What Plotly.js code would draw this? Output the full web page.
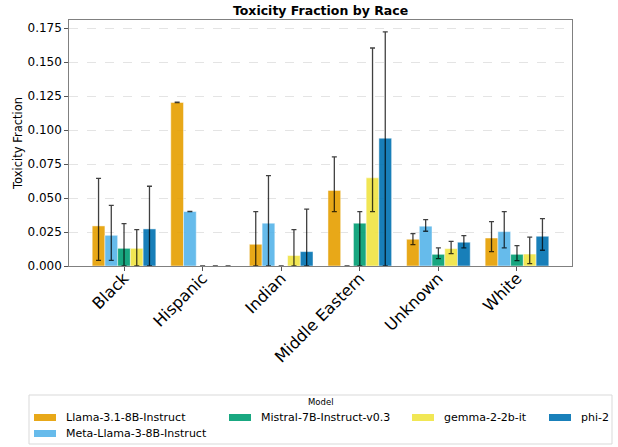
<!DOCTYPE html>
<html>
<head>
<meta charset="utf-8">
<script src="https://cdn.plot.ly/plotly-3.0.1.min.js"></script>
<style>html,body{margin:0;padding:0;background:#fff;}#chart{width:618px;height:447px;}</style>
</head>
<body>
<div id="chart"></div>
<script>
var categories = ["Black", "Hispanic", "Indian", "Middle Eastern", "Unknown", "White"];
var models = ["Llama-3.1-8B-Instruct", "Meta-Llama-3-8B-Instruct", "Mistral-7B-Instruct-v0.3", "gemma-2-2b-it", "phi-2"];
var colors = ["#E69F00", "#56B4E9", "#009E73", "#F0E442", "#0072B2"];
var legendTitle = "Model";

var llamaVals   = [0.0295, 0.1204, 0.0160, 0.0556, 0.0197, 0.0206];
var llamaHigh   = [0.0645, 0.1206, 0.0401, 0.0803, 0.0239, 0.0327];
var llamaLow    = [0.0042, 0.1202, 0.0000, 0.0401, 0.0158, 0.0106];

var metaVals    = [0.0226, 0.0401, 0.0315, 0.0000, 0.0293, 0.0253];
var metaHigh    = [0.0447, 0.0402, 0.0666, 0.0000, 0.0342, 0.0401];
var metaLow     = [0.0042, 0.0400, 0.0000, 0.0000, 0.0256, 0.0133];

var mistralVals = [0.0130, 0.0000, 0.0000, 0.0315, 0.0086, 0.0086];
var mistralHigh = [0.0312, 0.0000, 0.0000, 0.0401, 0.0133, 0.0150];
var mistralLow  = [0.0000, 0.0000, 0.0000, 0.0000, 0.0054, 0.0040];

var gemmaVals   = [0.0130, 0.0000, 0.0077, 0.0649, 0.0128, 0.0088];
var gemmaHigh   = [0.0268, 0.0000, 0.0268, 0.1605, 0.0182, 0.0212];
var gemmaLow    = [0.0000, 0.0000, 0.0000, 0.0401, 0.0091, 0.0018];

var phiVals     = [0.0273, 0.0000, 0.0106, 0.0941, 0.0175, 0.0219];
var phiHigh     = [0.0587, 0.0000, 0.0418, 0.1723, 0.0224, 0.0349];
var phiLow      = [0.0000, 0.0000, 0.0000, 0.0000, 0.0133, 0.0116];

var series = [
  [llamaVals, llamaHigh, llamaLow],
  [metaVals, metaHigh, metaLow],
  [mistralVals, mistralHigh, mistralLow],
  [gemmaVals, gemmaHigh, gemmaLow],
  [phiVals, phiHigh, phiLow]
];

var traces = series.map(function(s, i) {
  var vals = s[0], hi = s[1], lo = s[2];
  return {
    type: "bar",
    name: models[i],
    x: categories,
    y: vals,
    showlegend: false,
    marker: {color: colors[i], opacity: 0.9, line: {color: "rgba(255,255,255,0.6)", width: 0.8}},
    error_y: {
      type: "data",
      symmetric: false,
      array: hi.map(function(h, k) { return Math.max(h - vals[k], 0); }),
      arrayminus: lo.map(function(l, k) { return Math.max(vals[k] - l, 0); }),
      color: "rgba(0,0,0,0.75)",
      thickness: 1.3,
      width: 2.5
    }
  };
});

// Figure geometry (pixels)
var W = 618, H = 447;
var M = {l: 69, r: 46, t: 20, b: 181};
var plotW = W - M.l - M.r, plotH = H - M.t - M.b;
function px(x) { return (x - M.l) / plotW; }
function py(y) { return (H - M.b - y) / plotH; }

// Legend layout (matplotlib-style box below the plot)
var legBox = {x0: 29, x1: 612, y0: 395, y1: 444};
var legSlots = [ // one per model, same order as models
  {x: 34, y: 417.5},   // Llama
  {x: 34, y: 433.5},   // Meta
  {x: 229, y: 417.5},  // Mistral
  {x: 412, y: 417.5},  // gemma
  {x: 549, y: 417.5}   // phi
];
var swW = 22, swH = 7, txtOff = 29.5;

var shapes = [{
  type: "rect", xref: "paper", yref: "paper",
  x0: px(legBox.x0), x1: px(legBox.x1), y0: py(legBox.y1), y1: py(legBox.y0),
  line: {color: "#d9d9d9", width: 1}, fillcolor: "rgba(255,255,255,0.8)", layer: "above"
}];
var annotations = [{
  xref: "paper", yref: "paper", x: px((legBox.x0 + legBox.x1) / 2), y: py(402),
  text: legendTitle, showarrow: false, xanchor: "center", yanchor: "middle",
  font: {size: 8.5, color: "#000"}
}];
models.forEach(function(m, i) {
  var s = legSlots[i];
  shapes.push({
    type: "rect", xref: "paper", yref: "paper",
    x0: px(s.x), x1: px(s.x + swW), y0: py(s.y + swH / 2), y1: py(s.y - swH / 2),
    line: {width: 0}, fillcolor: colors[i], opacity: 0.9, layer: "above"
  });
  annotations.push({
    xref: "paper", yref: "paper", x: px(s.x + txtOff), y: py(s.y),
    text: m, showarrow: false, xanchor: "left", yanchor: "middle",
    font: {size: 11, color: "#000"}
  });
});

var layout = {
  width: W,
  height: H,
  margin: {l: M.l, r: M.r, t: M.t, b: M.b, autoexpand: false},
  paper_bgcolor: "#ffffff",
  plot_bgcolor: "#ffffff",
  font: {family: "DejaVu Sans, sans-serif", color: "#000"},
  title: {text: "<b>Toxicity Fraction by Race</b>", font: {size: 12.5, family: "DejaVu Sans"}, x: 0.5, xref: "paper", y: 0.985, yanchor: "top"},
  barmode: "group",
  bargap: 0.19,
  bargroupgap: 0,
  showlegend: false,
  shapes: shapes,
  annotations: annotations,
  xaxis: {
    type: "category",
    range: [-0.7, 5.7],
    tickangle: -45,
    tickfont: {size: 16},
    ticks: "outside",
    ticklen: 3.5,
    tickcolor: "#555",
    ticklabelstandoff: -8,
    showline: true,
    linecolor: "#808080",
    linewidth: 1.2,
    mirror: true,
    showgrid: false,
    zeroline: false,
    automargin: false
  },
  yaxis: {
    range: [0, 0.1811],
    dtick: 0.025,
    tickformat: ".3f",
    tickfont: {size: 12},
    ticks: "outside",
    ticklen: 3.5,
    tickcolor: "#555",
    showline: true,
    linecolor: "#808080",
    linewidth: 1.2,
    mirror: true,
    showgrid: true,
    gridcolor: "#dddddd",
    griddash: "dash",
    gridwidth: 0.8,
    zeroline: false,
    automargin: false,
    title: {text: "Toxicity Fraction", font: {size: 11.5}, standoff: 2}
  }
};

Plotly.newPlot("chart", traces, layout, {displayModeBar: false, staticPlot: true});
</script>
</body>
</html>
